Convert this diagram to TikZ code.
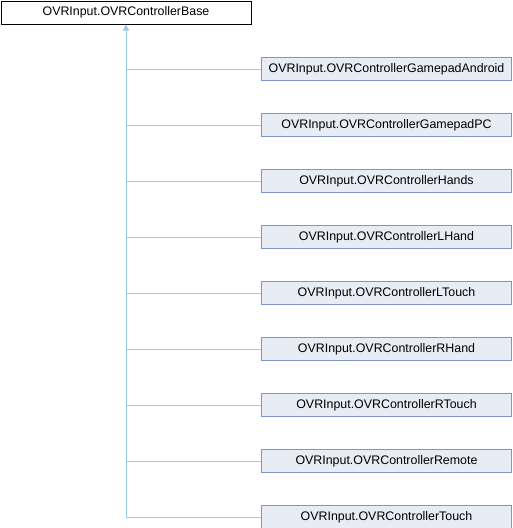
\documentclass[tikz,border=0pt]{standalone}
\usepackage{fontspec}
\setmainfont{Liberation Sans}
\usepackage{pgf,tikz}
\usetikzlibrary{shapes, arrows, arrows.meta, positioning}
\definecolor{lineaazul}{RGB}{155,202,230}
\definecolor{bordeazul}{RGB}{132,148,198}
\definecolor{fondoazul}{RGB}{232,236,245}
\tikzstyle{clasebase} = [draw=black, line width=1pt, rectangle, minimum width=250pt, minimum height=23pt, inner sep=0pt, font=\fontsize{12.4}{14}\selectfont, anchor=north west]
\tikzstyle{clasehija} = [draw=bordeazul, fill=fondoazul, line width=1pt, rectangle, minimum width=250pt, minimum height=23pt, inner sep=0pt, font=\fontsize{12.4}{14}\selectfont, anchor=north west]
\tikzstyle{herencia} = [draw=lineaazul, line width=1pt]

\begin{document}
\begin{tikzpicture}[x=1pt, y=-1pt]
	\useasboundingbox (0,0) rectangle (512,528);
	\node [clasebase] (base) at (0.5,0.5) {OVRInput.OVRControllerBase};
	\node [clasehija] (android) at (261,57) {OVRInput.OVRControllerGamepadAndroid};
	\node [clasehija] (pc) at (261,113) {OVRInput.OVRControllerGamepadPC};
	\node [clasehija] (hands) at (261,169) {OVRInput.OVRControllerHands};
	\node [clasehija] (lhand) at (261,225) {OVRInput.OVRControllerLHand};
	\node [clasehija] (ltouch) at (261,281) {OVRInput.OVRControllerLTouch};
	\node [clasehija] (rhand) at (261,337) {OVRInput.OVRControllerRHand};
	\node [clasehija] (rtouch) at (261,393) {OVRInput.OVRControllerRTouch};
	\node [clasehija] (remote) at (261,449) {OVRInput.OVRControllerRemote};
	\node [clasehija] (touch) at (261,505) {OVRInput.OVRControllerTouch};
	% tronco con la flecha hacia la clase base
	\draw [herencia, -{Triangle[length=6pt, width=6pt, fill=lineaazul]}] (touch.west) -| (base.south);
	\draw [herencia] (android.west) -- (android.west -| base.south);
	\draw [herencia] (pc.west) -- (pc.west -| base.south);
	\draw [herencia] (hands.west) -- (hands.west -| base.south);
	\draw [herencia] (lhand.west) -- (lhand.west -| base.south);
	\draw [herencia] (ltouch.west) -- (ltouch.west -| base.south);
	\draw [herencia] (rhand.west) -- (rhand.west -| base.south);
	\draw [herencia] (rtouch.west) -- (rtouch.west -| base.south);
	\draw [herencia] (remote.west) -- (remote.west -| base.south);
\end{tikzpicture}
\end{document}
